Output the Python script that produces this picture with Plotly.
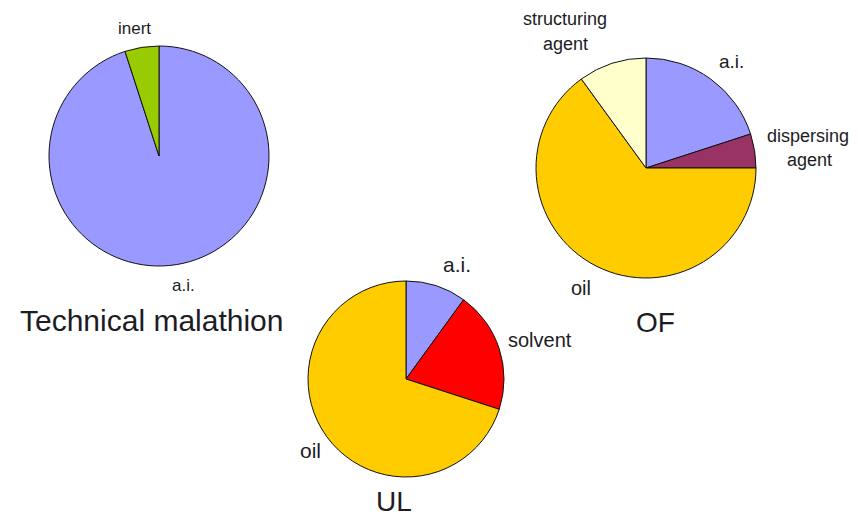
import plotly.graph_objects as go

W, H = 860, 519

# Composition of each formulation (percent, clockwise from 12 o'clock)
tech_labels = ["a.i.", "inert"]
tech_values = [95, 5]
tech_colors = ["#9999FF", "#99CC00"]

of_labels = ["a.i.", "dispersing agent", "oil", "structuring agent"]
of_values = [20, 5, 65, 10]
of_colors = ["#9999FF", "#993366", "#FFCC00", "#FFFFCC"]

ul_labels = ["a.i.", "solvent", "oil"]
ul_values = [10, 20, 70]
ul_colors = ["#9999FF", "#FF0000", "#FFCC00"]

titles = ["Technical malathion", "OF", "UL"]


def domain(cx, cy, r):
    return dict(x=[(cx - r) / W, (cx + r) / W],
                y=[1 - (cy + r) / H, 1 - (cy - r) / H])


def pie(labels, values, colors, dom):
    return go.Pie(labels=labels, values=values, sort=False,
                  direction="clockwise", rotation=0,
                  marker=dict(colors=colors, line=dict(color="#111111", width=1)),
                  textinfo="none", hoverinfo="label+percent",
                  showlegend=False, domain=dom)


fig = go.Figure()
fig.add_trace(pie(tech_labels, tech_values, tech_colors, domain(159, 156, 110)))
fig.add_trace(pie(of_labels, of_values, of_colors, domain(646, 168, 110)))
fig.add_trace(pie(ul_labels, ul_values, ul_colors, domain(406, 379, 98)))

TXT = "#1c1c24"
FONT = "Liberation Sans, Arial, sans-serif"


def note(x, y, text, size, yanchor="middle"):
    fig.add_annotation(x=x / W, y=1 - y / H, xref="paper", yref="paper",
                       text=text, showarrow=False, xanchor="center", yanchor=yanchor,
                       font=dict(family=FONT, size=size, color=TXT))


# slice labels (two-word labels are set one word per line)
note(134, 29, tech_labels[1], 17)
note(183, 285, tech_labels[0], 17)

s1, s2 = of_labels[3].split()
note(565, 19, s1, 18)
note(565, 44, s2, 18)
note(731, 62, of_labels[0], 19)
d1, d2 = of_labels[1].split()
note(808, 136, d1, 18)
note(809, 160, d2, 18)
note(581, 288, of_labels[2], 20)

note(457, 264, ul_labels[0], 21)
note(540, 340, ul_labels[1], 20)
note(310, 450, ul_labels[2], 21)

# formulation names
note(151, 320, titles[0], 30)
note(655, 322, titles[1], 28)
note(394, H, titles[2], 28, yanchor="bottom")

fig.update_layout(width=W, height=H, margin=dict(l=0, r=0, t=0, b=0),
                  paper_bgcolor="white", plot_bgcolor="white")

fig.write_html("out.html")
